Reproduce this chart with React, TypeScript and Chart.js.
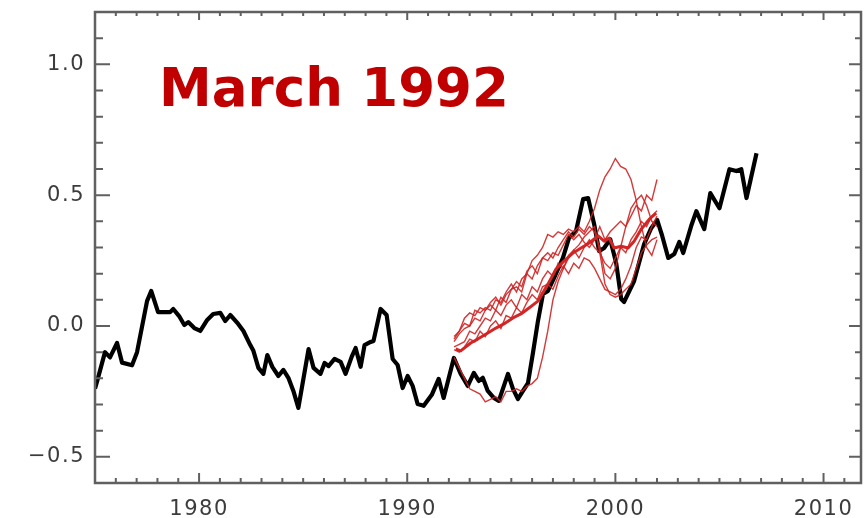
import React, { useEffect, useRef } from 'react';
import { Chart, registerables } from 'chart.js';

Chart.register(...registerables);

// ---- Data ----
const blackYears = [1975.00,1975.14,1975.48,1975.72,1976.06,1976.30,1976.78,1977.02,1977.50,1977.70,
  1978.03,1978.61,1978.76,1979.04,1979.29,1979.48,1979.77,1980.06,1980.39,1980.68,
  1981.02,1981.26,1981.50,1981.88,1982.13,1982.46,1982.61,1982.85,1983.09,1983.28,
  1983.52,1983.81,1984.05,1984.29,1984.53,1984.77,1985.26,1985.50,1985.83,1986.03,
  1986.22,1986.51,1986.80,1987.04,1987.33,1987.52,1987.76,1987.95,1988.24,1988.38,
  1988.72,1989.01,1989.30,1989.54,1989.78,1990.02,1990.26,1990.50,1990.79,1991.18,
  1991.51,1991.75,1992.24,1992.57,1992.91,1993.20,1993.44,1993.63,1993.87,1994.16,
  1994.40,1994.84,1995.08,1995.32,1995.56,1995.80,1996.04,1996.28,1996.52,1996.76,
  1997.05,1997.48,1997.77,1998.11,1998.45,1998.69,1998.98,1999.22,1999.46,1999.75,
  2000.04,2000.28,2000.42,2000.90,2001.38,2001.72,2002.01,2002.25,2002.54,2002.83,
  2003.07,2003.26,2003.64,2003.89,2004.27,2004.56,2005.00,2005.48,2005.81,2006.05,
  2006.30,2006.78];
const blackValues = [-0.24,-0.20,-0.10,-0.12,-0.065,-0.14,-0.15,-0.10,0.095,0.134,
  0.053,0.053,0.065,0.038,0.004,0.015,-0.008,-0.019,0.023,0.046,
  0.05,0.019,0.042,0.008,-0.019,-0.073,-0.095,-0.16,-0.183,-0.111,
  -0.156,-0.191,-0.168,-0.198,-0.248,-0.313,-0.088,-0.16,-0.183,-0.141,
  -0.153,-0.126,-0.137,-0.183,-0.118,-0.084,-0.156,-0.073,-0.061,-0.057,
  0.065,0.042,-0.126,-0.149,-0.237,-0.191,-0.229,-0.298,-0.305,-0.263,
  -0.202,-0.275,-0.122,-0.183,-0.229,-0.179,-0.21,-0.198,-0.248,-0.275,
  -0.286,-0.183,-0.24,-0.279,-0.248,-0.218,-0.103,0.019,0.122,0.134,
  0.183,0.26,0.336,0.363,0.485,0.489,0.389,0.286,0.298,0.332,
  0.24,0.103,0.092,0.172,0.313,0.374,0.405,0.344,0.26,0.275,
  0.321,0.279,0.382,0.439,0.37,0.508,0.45,0.599,0.592,0.599,
  0.489,0.66];

const redYears = [1992.25,1992.5,1992.75,1993.0,1993.25,1993.5,1993.75,1994.0,1994.25,1994.5,
  1994.75,1995.0,1995.25,1995.5,1995.75,1996.0,1996.25,1996.5,1996.75,1997.0,
  1997.25,1997.5,1997.75,1998.0,1998.25,1998.5,1998.75,1999.0,1999.25,1999.5,
  1999.75,2000.0,2000.25,2000.5,2000.75,2001.0,2001.25,2001.5,2001.75,2002.0];
const redMember1 = [-0.04,-0.02,0.03,0.05,0.04,0.07,0.06,0.09,0.11,0.08,
  0.12,0.14,0.15,0.13,0.20,0.25,0.27,0.30,0.35,0.34,
  0.36,0.35,0.37,0.36,0.38,0.36,0.40,0.45,0.52,0.57,
  0.60,0.64,0.61,0.60,0.56,0.48,0.38,0.30,0.27,0.33];
const redMember2 = [-0.06,-0.03,-0.01,0.00,0.06,0.05,0.07,0.06,0.10,0.09,
  0.13,0.16,0.13,0.18,0.20,0.18,0.23,0.26,0.25,0.28,
  0.27,0.31,0.35,0.33,0.35,0.32,0.30,0.33,0.38,0.33,
  0.36,0.38,0.40,0.38,0.42,0.46,0.44,0.50,0.48,0.56];
const redMember3 = [-0.08,-0.07,-0.06,-0.02,-0.03,0.00,0.03,0.02,0.06,0.04,
  0.08,0.10,0.07,0.12,0.10,0.15,0.13,0.18,0.21,0.19,
  0.24,0.22,0.27,0.29,0.26,0.30,0.33,0.30,0.28,0.24,
  0.22,0.26,0.30,0.28,0.33,0.36,0.40,0.38,0.42,0.44];
const redMember4 = [-0.12,-0.16,-0.20,-0.24,-0.25,-0.26,-0.29,-0.28,-0.27,-0.29,
  -0.25,-0.25,-0.24,-0.25,-0.23,-0.22,-0.20,-0.12,-0.02,0.10,
  0.17,0.22,0.26,0.29,0.31,0.34,0.36,0.38,0.28,0.16,
  0.12,0.11,0.12,0.14,0.16,0.22,0.28,0.31,0.33,0.34];
const redMember5 = [-0.09,-0.10,-0.08,-0.05,-0.06,-0.02,-0.04,0.00,0.02,-0.01,
  0.04,0.03,0.07,0.05,0.09,0.12,0.10,0.15,0.16,0.14,
  0.19,0.23,0.20,0.24,0.22,0.26,0.25,0.22,0.18,0.14,
  0.13,0.12,0.14,0.18,0.23,0.30,0.34,0.33,0.38,0.42];
const redMember6 = [-0.05,-0.02,0.01,0.00,0.03,0.02,0.06,0.08,0.06,0.11,
  0.09,0.14,0.17,0.15,0.21,0.23,0.20,0.26,0.28,0.26,
  0.30,0.33,0.36,0.34,0.37,0.35,0.38,0.36,0.30,0.20,
  0.18,0.22,0.30,0.38,0.45,0.48,0.50,0.46,0.40,0.38];

const redMeanYears = [1992.33,1992.57,1993.05,1993.39,1993.87,1994.26,1994.64,1995.08,1995.46,1995.85,
  1996.28,1996.76,1997.15,1997.53,1997.97,1998.35,1998.74,1999.17,1999.46,1999.70,
  1999.94,2000.28,2000.61,2000.90,2001.24,2001.63,2001.96];
const redMeanValues = [-0.088,-0.095,-0.065,-0.05,-0.027,-0.008,0.008,0.031,0.046,0.069,
  0.095,0.16,0.218,0.248,0.279,0.298,0.317,0.344,0.324,0.336,
  0.298,0.305,0.298,0.324,0.37,0.408,0.431];

const xTickYears = [1980, 1990, 2000, 2010];
const yTickValues = [-0.5, 0, 0.5, 1.0];
const titleText = 'March 1992';

const pts = (xs: number[], ys: number[]) => xs.map((x, i) => ({ x, y: ys[i] }));

const AXIS_COLOR = '#606060';
const LABEL_COLOR = '#3c3c3c';

const framePlugin = {
  id: 'frameTicks',
  beforeDraw(chart: any) {
    (chart.ctx as any).letterSpacing = '1.5px';
  },
  afterDatasetsDraw(chart: any) {
    const { ctx, chartArea: a, scales } = chart;
    const xs = scales.x;
    const ys = scales.y;
    ctx.save();
    ctx.strokeStyle = AXIS_COLOR;
    ctx.lineWidth = 2.5;
    ctx.strokeRect(a.left, a.top, a.right - a.left, a.bottom - a.top);
    ctx.lineWidth = 2;
    ctx.beginPath();
    for (let yr = Math.ceil(xs.min); yr <= xs.max; yr++) {
      const px = xs.getPixelForValue(yr);
      const major = yr % 10 === 0;
      ctx.moveTo(px, a.bottom);
      ctx.lineTo(px, a.bottom - (major ? 10 : 5));
      ctx.moveTo(px, a.top);
      ctx.lineTo(px, a.top + (major ? 8 : 4));
    }
    for (let k = -5; k <= 11; k++) {
      const py = ys.getPixelForValue(k / 10);
      const major = k % 5 === 0;
      ctx.moveTo(a.left, py);
      ctx.lineTo(a.left + (major ? 15 : 8), py);
      ctx.moveTo(a.right, py);
      ctx.lineTo(a.right - (major ? 12 : 6), py);
    }
    ctx.stroke();

    (ctx as any).letterSpacing = '0px';
    ctx.fillStyle = '#c00000';
    ctx.font = 'bold 53px "DejaVu Sans", sans-serif';
    ctx.textAlign = 'left';
    ctx.textBaseline = 'alphabetic';
    ctx.fillText(titleText, xs.getPixelForValue(1978.08), ys.getPixelForValue(0.842));
    ctx.restore();
  },
};

export default function App() {
  const canvasRef = useRef<HTMLCanvasElement | null>(null);

  useEffect(() => {
    if (!canvasRef.current) return;
    const thin = (data: number[]) => ({
      data: pts(redYears, data),
      borderColor: 'rgba(206,36,36,0.9)',
      borderWidth: 1.4,
      pointRadius: 0,
      tension: 0,
      fill: false,
    });
    const chart = new Chart(canvasRef.current, {
      type: 'line',
      data: {
        datasets: [
          thin(redMember1),
          thin(redMember2),
          thin(redMember3),
          thin(redMember4),
          thin(redMember5),
          thin(redMember6),
          {
            data: pts(redMeanYears, redMeanValues),
            borderColor: '#d42626',
            borderWidth: 3,
            pointRadius: 0,
            tension: 0,
            fill: false,
            borderJoinStyle: 'round',
          } as any,
          {
            data: pts(blackYears, blackValues),
            borderColor: '#000000',
            borderWidth: 4.2,
            pointRadius: 0,
            tension: 0,
            fill: false,
            borderJoinStyle: 'round',
          } as any,
        ],
      },
      options: {
        responsive: false,
        animation: false,
        events: [],
        layout: { padding: { top: 12, right: 5, left: 0, bottom: 0 } },
        plugins: {
          legend: { display: false },
          title: { display: false },
          tooltip: { enabled: false },
        },
        scales: {
          x: {
            type: 'linear',
            min: 1975,
            max: 2011.8,
            grid: { display: false, drawTicks: false },
            border: { display: false },
            afterBuildTicks: (s: any) => {
              s.ticks = xTickYears.map((v) => ({ value: v }));
            },
            afterFit: (s: any) => {
              s.height = 35;
              s.paddingLeft = 0;
              s.paddingRight = 0;
            },
            ticks: {
              color: LABEL_COLOR,
              padding: 14,
              maxRotation: 0,
              autoSkip: false,
              font: { family: '"DejaVu Sans", sans-serif', size: 21 },
              callback: (v: any) => String(v),
            },
          },
          y: {
            type: 'linear',
            min: -0.6,
            max: 1.2,
            grid: { display: false, drawTicks: false },
            border: { display: false },
            afterBuildTicks: (s: any) => {
              s.ticks = yTickValues.map((v) => ({ value: v }));
            },
            afterFit: (s: any) => {
              s.width = 95;
              s.paddingTop = 0;
              s.paddingBottom = 0;
            },
            ticks: {
              color: LABEL_COLOR,
              padding: 10,
              autoSkip: false,
              font: { family: '"DejaVu Sans", sans-serif', size: 21 },
              callback: (v: any) => Number(v).toFixed(1).replace('-', '\u2212'),
            },
          },
        },
      },
      plugins: [framePlugin],
    });
    return () => chart.destroy();
  }, []);

  return (
    <div style={{ position: 'fixed', left: 0, top: 0, width: 866, height: 518, background: '#fff' }}>
      <canvas ref={canvasRef} width={866} height={518} style={{ display: 'block', width: 866, height: 518 }} />
    </div>
  );
}
